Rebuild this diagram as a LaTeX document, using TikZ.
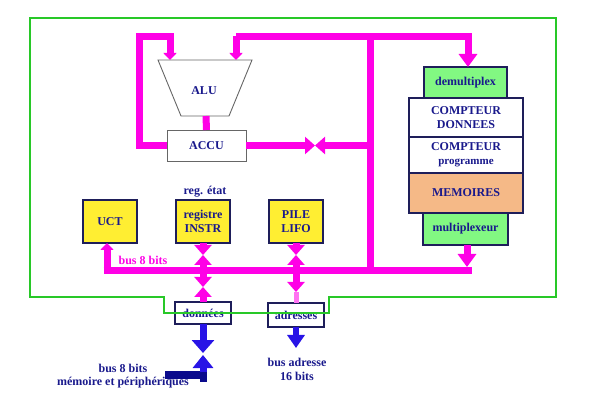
\documentclass[tikz,border=0pt]{standalone}
\usepackage{fontspec}
\setmainfont{Liberation Serif}
\usetikzlibrary{arrows.meta,calc}
\definecolor{mag}{RGB}{255,0,230}
\definecolor{txt}{RGB}{25,25,140}
\definecolor{bord}{RGB}{30,30,90}
\definecolor{grn}{RGB}{40,200,40}
\definecolor{yel}{RGB}{255,238,50}
\definecolor{lgreen}{RGB}{130,248,130}
\definecolor{orng}{RGB}{245,185,135}
\definecolor{blu}{RGB}{40,20,230}
\definecolor{navyb}{RGB}{10,10,140}
\begin{document}
\begin{tikzpicture}[x=1pt,y=-1pt,
  lbl/.style={font=\fontsize{12}{14}\selectfont\bfseries, text=txt, align=center},
  box/.style={lbl, draw=bord, line width=1.3pt, inner sep=0pt, outer sep=0pt},
  graybox/.style={lbl, draw=black!60, line width=0.9pt, inner sep=0pt, outer sep=0pt, fill=white},
  bus/.style={draw=mag, line width=7pt, line join=miter},
  smalltip/.style={-{Triangle[width=13pt,length=7pt]}},
  bigtip/.style={-{Triangle[width=18pt,length=13pt]}},
  bowtip/.style={-{Triangle[width=17pt,length=10pt]}},
  bluebus/.style={draw=blu, line width=7pt}]
\useasboundingbox (0,0) rectangle (598,409);

% ---- boxes
\coordinate (aluTL) at (158,60);
\coordinate (aluTR) at (252,60);
\coordinate (aluBR) at (229,116);
\coordinate (aluBL) at (181,116);
\draw[draw=black!60, line width=0.9pt, fill=white] (aluTL) -- (aluTR) -- (aluBR) -- (aluBL) -- cycle;
\node[lbl] (alu) at (204,91) {ALU};
\coordinate (aluinA) at (170,60);
\coordinate (aluinB) at (236,60);
\coordinate (aluout) at (206,116);

\node[graybox, minimum width=79pt, minimum height=31pt] (accu) at (206.5,145.5) {ACCU};

\node[box, fill=yel, minimum width=54pt, minimum height=43pt] (uct) at (110,221.5) {UCT};
\node[box, fill=yel, minimum width=54pt, minimum height=43pt] (reg) at (203,221.5) {registre\\INSTR};
\node[box, fill=yel, minimum width=54pt, minimum height=43pt] (pile) at (296,221.5) {PILE\\LIFO};
\node[box, fill=white, minimum width=56pt, minimum height=22pt] (don) at (203,313) {données};
\node[box, fill=white, minimum width=56pt, minimum height=24pt] (adr) at (296,315) {adresses};

\node[box, fill=lgreen, minimum width=83pt, minimum height=31pt] (demux) at (465.5,82.5) {demultiplex};
\node[box, fill=white, minimum width=114pt, minimum height=39pt] (cdon) at (466,117.5) {COMPTEUR\\DONNEES};
\node[box, fill=white, minimum width=114pt, minimum height=36pt] (cprog) at (466,155) {COMPTEUR\\{\fontsize{11}{14}\selectfont programme}};
\node[box, fill=orng, minimum width=114pt, minimum height=40pt] (mem) at (466,193) {MEMOIRES};
\node[box, fill=lgreen, minimum width=85pt, minimum height=32pt] (mux) at (465.5,229) {multiplexeur};

% ---- magenta buses
\coordinate (tlA) at (139.5,36.5);
\coordinate (tlB) at (139.5,145.5);
\coordinate (trA) at (468,36.5);
\coordinate (vtop) at (370,36.5);
\coordinate (vbot) at (370,270.5);
\coordinate (accubus) at (370,145.5);
\coordinate (accumid) at (315,145.5);
\coordinate (busL) at (103.5,270.5);
\coordinate (busR) at (472,270.5);

\draw[bus, smalltip] (accu.west) -- (tlB) -- (tlA) -- (tlA -| aluinA) -- (aluinA);
\draw[bus, smalltip] (trA -| aluinB) -- (aluinB);
\draw[bus, bigtip] (trA -| aluinB) -- (trA) -- (trA |- demux.north);
\draw[bus] (vtop) -- (vbot);
\draw[bus] (busL) -- (busR);
\draw[bus] (aluout) -- (accu.north);
\draw[bus, bowtip] (accu.east) -- (accumid);
\draw[bus, bowtip] (accubus) -- (accumid);
\coordinate (muxbus) at (467,267);
\draw[bus, bigtip] (muxbus |- mux.south) -- (muxbus);

\coordinate (uctbus) at (107,274);
\draw[bus, smalltip] (uctbus) -- (uctbus |- uct.south);

\coordinate (regmid) at (203,255);
\coordinate (regbus) at (203,267);
\draw[bus, bowtip] (reg.south) -- (regmid);
\draw[bus, bowtip] (regbus) -- (regmid);
\coordinate (donmid) at (203,287);
\coordinate (donbus) at (203,274);
\draw[bus, bowtip] (donbus) -- (donmid);
\draw[bus, bowtip] (don.north) -- (donmid);

\coordinate (pilemid) at (296,255);
\coordinate (pilebus) at (296,267);
\draw[bus, bowtip] (pile.south) -- (pilemid);
\draw[bus, bowtip] (pilebus) -- (pilemid);
\coordinate (adrbus) at (296,274);
\coordinate (adrtip) at (296,292);
\draw[draw=mag!55, line width=5pt] (adrtip) -- (adr.north);
\draw[bus, bowtip] (adrbus) -- (adrtip);

% ---- blue buses
\coordinate (bnav) at (165,375);
\coordinate (bcorner) at (203,375);
\fill[navyb] (199.5,371) rectangle (206.5,382);
\draw[navyb, line width=8pt] (bnav) -- (bcorner);
\draw[bluebus, -{Triangle[width=22pt,length=13pt]}] (don.south) -- (203,353);
\draw[bluebus, -{Triangle[width=20pt,length=13pt]}] (203,372) -- (203,355);
\draw[bluebus, line width=6pt, -{Triangle[width=17pt,length=13pt]}] (adr.south) -- (296,348);

% ---- texts
\node[lbl, text=mag] (bus8) at (143,260) {bus 8 bits};
\node[lbl] (regetat) at (205,192) {reg. état};
\node[lbl, font=\fontsize{12}{13}\selectfont\bfseries] (busmem) at (123,376) {bus 8 bits\\mémoire et périphériques};
\node[lbl] (busadr) at (297,369) {bus adresse\\16 bits};

% ---- green outline
\draw[grn, line width=1.5pt] (30,18) -- (556,18) -- (556,297) -- (329,297) -- (329,313) -- (164,313) -- (164,297) -- (30,297) -- cycle;
\end{tikzpicture}
\end{document}
